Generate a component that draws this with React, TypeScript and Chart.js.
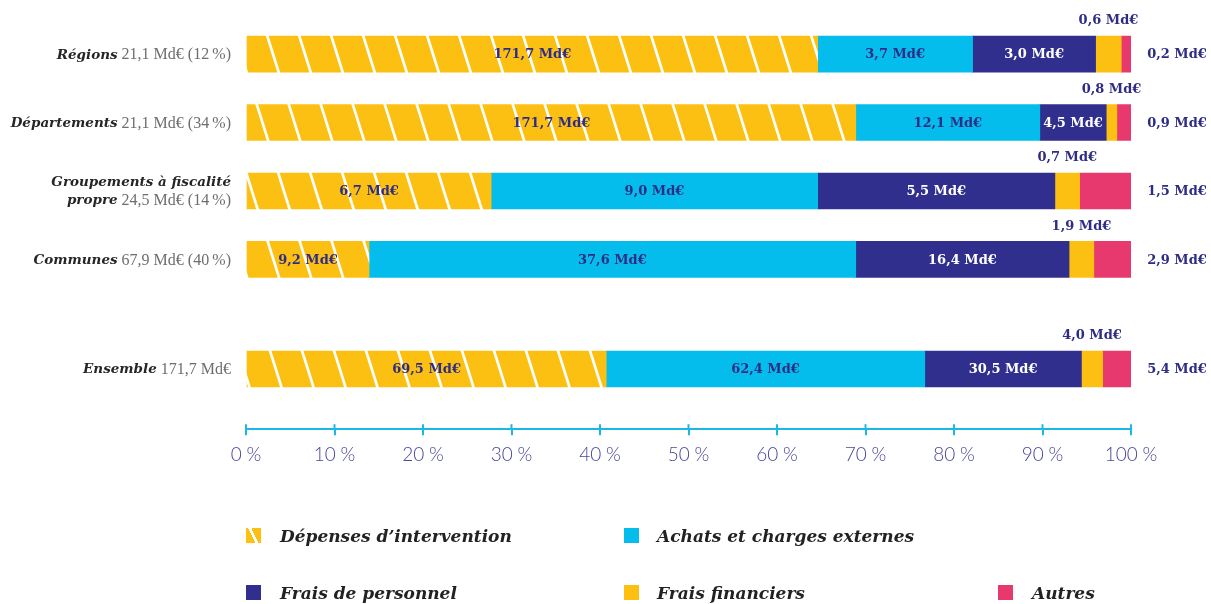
import React, { useEffect, useRef } from 'react';
import { Chart, registerables } from 'chart.js';

Chart.register(...registerables);

// ---- data ----
const categories = ['Régions', 'Départements', 'Groupements à fiscalité\npropre', 'Communes', 'Ensemble'];
const categoryTotals = ['21,1 Md€ (12\u202F%)', '21,1 Md€ (34\u202F%)', '24,5 Md€ (14\u202F%)', '67,9 Md€ (40\u202F%)', '171,7 Md€'];
const seriesNames = ['Dépenses d’intervention', 'Achats et charges externes', 'Frais de personnel', 'Frais financiers', 'Autres'];

// share of each category's spending (%)
const interventionPct = [64.6, 68.9, 27.7, 13.9, 40.7];
const achatsPct = [17.5, 20.8, 36.9, 55.0, 36.0];
const personnelPct = [13.9, 7.5, 26.8, 24.1, 17.7];
const financiersPct = [2.9, 1.2, 2.8, 2.8, 2.4];
const autresPct = [1.1, 1.6, 5.8, 4.2, 3.2];

// amounts shown in the labels (Md€)
const interventionMd = [171.7, 171.7, 6.7, 9.2, 69.5];
const achatsMd = [3.7, 12.1, 9.0, 37.6, 62.4];
const personnelMd = [3.0, 4.5, 5.5, 16.4, 30.5];
const financiersMd = [0.6, 0.8, 0.7, 1.9, 4.0];
const autresMd = [0.2, 0.9, 1.5, 2.9, 5.4];

const xTickValues = [0, 10, 20, 30, 40, 50, 60, 70, 80, 90, 100];

// ---- layout / style ----
const ROW_POS = [0, 1, 2, 3, 4.6];
const YELLOW = '#FCC012';
const CYAN = '#05BDEC';
const NAVY = '#302F8D';
const PINK = '#E7396E';
const AXIS = '#1BB8E6';
const LABEL_NAVY = '#2E2D86';
const TICK_COLOR = '#4A469C';
const seriesColors = [YELLOW, CYAN, NAVY, YELLOW, PINK];

const fmt = (v: number) => v.toFixed(1).replace('.', ',') + ' Md€';

function makeHatch(color: string): CanvasPattern | string {
  const c = document.createElement('canvas');
  const w = 32;
  const h = 102;
  c.width = w;
  c.height = h;
  const ctx = c.getContext('2d');
  if (!ctx) return color;
  ctx.fillStyle = color;
  ctx.fillRect(0, 0, w, h);
  ctx.strokeStyle = '#ffffff';
  ctx.lineWidth = 2.7;
  for (const off of [-w, 0, w]) {
    ctx.beginPath();
    ctx.moveTo(off, 0);
    ctx.lineTo(off + w, h);
    ctx.stroke();
  }
  return ctx.createPattern(c, 'repeat') || color;
}

const LABEL_FONT = 'bold 13px "DejaVu Serif"';

const dataLabelPlugin = {
  id: 'dataLabels',
  afterDatasetsDraw(chart: any) {
    const ctx = chart.ctx as CanvasRenderingContext2D;
    const amounts = [interventionMd, achatsMd, personnelMd, financiersMd, autresMd];
    ctx.save();
    ctx.font = LABEL_FONT;
    ctx.textBaseline = 'middle';
    ctx.textAlign = 'center';
    chart.data.datasets.forEach((ds: any, di: number) => {
      const meta = chart.getDatasetMeta(di);
      meta.data.forEach((el: any, i: number) => {
        const txt = fmt(amounts[di][i]);
        const left = Math.min(el.x, el.base);
        const right = Math.max(el.x, el.base);
        const top = el.y - el.height / 2;
        if (di <= 2) {
          ctx.fillStyle = di === 2 ? '#ffffff' : LABEL_NAVY;
          ctx.fillText(txt, (left + right) / 2, el.y + 1);
        } else if (di === 3) {
          ctx.fillStyle = LABEL_NAVY;
          ctx.fillText(txt, (left + right) / 2, top - 15);
        } else {
          ctx.fillStyle = LABEL_NAVY;
          ctx.fillText(txt, chart.chartArea.right + 46, el.y + 1);
        }
      });
    });
    ctx.restore();
  },
};

const categoryLabelPlugin = {
  id: 'categoryLabels',
  afterDraw(chart: any) {
    const ctx = chart.ctx as CanvasRenderingContext2D;
    const yScale = chart.scales.y;
    const xRight = 231;
    const boldFont = 'italic bold 13.5px "DejaVu Serif"';
    const valFont = '16px "Liberation Serif"';
    ctx.save();
    ctx.textBaseline = 'middle';
    ctx.textAlign = 'right';
    categories.forEach((name, i) => {
      const yc = yScale.getPixelForValue(ROW_POS[i]);
      const lines = name.split('\n');
      const lineH = 18;
      const y0 = yc - ((lines.length - 1) * lineH) / 2;
      lines.forEach((ln, li) => {
        const y = y0 + li * lineH + 1;
        let x = xRight;
        if (li === lines.length - 1) {
          ctx.font = valFont;
          ctx.fillStyle = '#6E6E6E';
          const v = ' ' + categoryTotals[i];
          ctx.fillText(v, x, y);
          x -= ctx.measureText(v).width;
        }
        ctx.font = boldFont;
        ctx.fillStyle = '#262626';
        ctx.fillText(ln, x, y);
      });
    });
    ctx.restore();
  },
};

const innerTickPlugin = {
  id: 'innerTicks',
  afterDraw(chart: any) {
    const ctx = chart.ctx as CanvasRenderingContext2D;
    const xs = chart.scales.x;
    const y = chart.chartArea.bottom;
    ctx.save();
    ctx.strokeStyle = AXIS;
    ctx.lineWidth = 2;
    xTickValues.forEach((v) => {
      const x = xs.getPixelForValue(v);
      ctx.beginPath();
      ctx.moveTo(x, y);
      ctx.lineTo(x, y - 5);
      ctx.stroke();
    });
    ctx.restore();
  },
};

const legendSlots = [
  { box: 246, text: 280, y: 536 },
  { box: 624, text: 657, y: 536 },
  { box: 246, text: 280, y: 593 },
  { box: 624, text: 657, y: 593 },
  { box: 998, text: 1032, y: 593 },
];

function Legend() {
  return (
    <>
      {seriesNames.map((name, i) => {
        const slot = legendSlots[i];
        const bg =
          i === 0
            ? `linear-gradient(65deg, ${YELLOW} 0 42%, #ffffff 42% 56%, ${YELLOW} 56% 100%)`
            : seriesColors[i];
        return (
          <React.Fragment key={name}>
            <span
              style={{
                position: 'absolute',
                left: slot.box,
                top: slot.y - 8,
                width: 15,
                height: 15,
                background: bg,
              }}
            />
            <span
              style={{
                position: 'absolute',
                left: slot.text,
                top: slot.y - 12,
                height: 24,
                lineHeight: '24px',
                whiteSpace: 'nowrap',
                fontFamily: '"DejaVu Serif"',
                fontStyle: 'italic',
                fontWeight: 'bold',
                fontSize: 17,
                color: '#222222',
              }}
            >
              {name}
            </span>
          </React.Fragment>
        );
      })}
    </>
  );
}

export default function App() {
  const ref = useRef<HTMLCanvasElement | null>(null);

  useEffect(() => {
    if (!ref.current) return;
    const pcts = [interventionPct, achatsPct, personnelPct, financiersPct, autresPct];
    const chart = new Chart(ref.current, {
      type: 'bar',
      data: {
        datasets: seriesNames.map((name, di) => ({
          label: name,
          data: pcts[di].map((v, i) => ({ x: v, y: ROW_POS[i] })),
          backgroundColor: di === 0 ? (makeHatch(YELLOW) as any) : seriesColors[di],
          borderWidth: 0,
          barThickness: 36,
        })),
      },
      options: {
        indexAxis: 'y',
        responsive: false,
        animation: false,
        devicePixelRatio: 1,
        layout: { padding: { left: 246, right: 80, top: 13, bottom: 130 } },
        plugins: {
          legend: { display: false },
          tooltip: { enabled: false },
        },
        scales: {
          x: {
            type: 'linear',
            stacked: true,
            min: 0,
            max: 100,
            afterBuildTicks: (scale: any) => {
              scale.ticks = xTickValues.map((v) => ({ value: v }));
            },
            ticks: {
              callback: (v: any) => `${v}\u202F%`,
              color: TICK_COLOR,
              font: { family: 'Lato', size: 19, weight: '300' as any },
              padding: 8,
              maxRotation: 0,
              autoSkip: false,
            },
            grid: {
              drawOnChartArea: false,
              drawTicks: true,
              tickLength: 6,
              color: AXIS,
              lineWidth: 2,
            },
            border: { display: true, color: AXIS, width: 2 },
          },
          y: {
            type: 'linear',
            stacked: true,
            reverse: true,
            offset: false,
            min: -0.6,
            max: 5.48,
            display: false,
          },
        },
      },
      plugins: [dataLabelPlugin, categoryLabelPlugin, innerTickPlugin],
    });
    return () => chart.destroy();
  }, []);

  return (
    <div style={{ position: 'absolute', left: 0, top: 0, width: 1211, height: 604, background: '#ffffff' }}>
      <canvas ref={ref} width={1211} height={604} style={{ display: 'block' }} />
      <Legend />
    </div>
  );
}
